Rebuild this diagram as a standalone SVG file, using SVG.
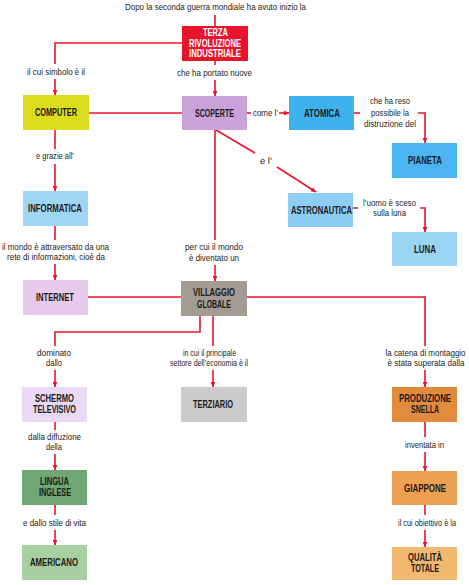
<svg xmlns="http://www.w3.org/2000/svg" width="469" height="585" viewBox="0 0 469 585">
<style>
.lbl{font-family:"Liberation Sans",Arial,sans-serif;font-size:9.5px;fill:#222;text-anchor:middle}
.nt{font-family:"Liberation Sans",Arial,sans-serif;font-size:10px;font-weight:bold;fill:#1a1a1a;text-anchor:middle}
.w{fill:#fff}
.c{fill:none;stroke:#e8142c;stroke-width:1.6}
</style>
<defs>
<marker id="a" viewBox="0 0 10 10" refX="10" refY="5" markerWidth="5" markerHeight="5" orient="auto" markerUnits="userSpaceOnUse">
<path d="M0,0 L10,5 L0,10 z" fill="#e8142c"/>
</marker>
</defs>
<rect width="469" height="585" fill="#fff"/>
<text class="lbl" x="215.5" y="10" textLength="181" lengthAdjust="spacingAndGlyphs">Dopo la seconda guerra mondiale ha avuto inizio la</text>
<g id="connectors">
<path class="c" d="M215,15 V26"/>
<path class="c" d="M182,43 H55 V64"/>
<path class="c" d="M55,79 V95" marker-end="url(#a)"/>
<path class="c" d="M215,61 V65"/>
<path class="c" d="M215,80 V96" marker-end="url(#a)"/>
<path class="c" d="M89,113 H182"/>
<path class="c" d="M247,113 H251"/>
<path class="c" d="M279,113 H289" marker-end="url(#a)"/>
<path class="c" d="M354,113 H360"/>
<path class="c" d="M418,113 H425 V143" marker-end="url(#a)"/>
<path class="c" d="M216,130 L255,153"/>
<path class="c" d="M277,167 L316,192" marker-end="url(#a)"/>
<path class="c" d="M215,130 V240"/>
<path class="c" d="M215,265 V281" marker-end="url(#a)"/>
<path class="c" d="M353,208 H358"/>
<path class="c" d="M420,208 H425 V232" marker-end="url(#a)"/>
<path class="c" d="M55,130 V149"/>
<path class="c" d="M55,164 V191" marker-end="url(#a)"/>
<path class="c" d="M55,226 V240"/>
<path class="c" d="M55,264 V280" marker-end="url(#a)"/>
<path class="c" d="M88,297 H181"/>
<path class="c" d="M200,316 V332 H55 V346"/>
<path class="c" d="M55,370 V387" marker-end="url(#a)"/>
<path class="c" d="M213,316 V346"/>
<path class="c" d="M213,370 V387" marker-end="url(#a)"/>
<path class="c" d="M247,297 H425 V346"/>
<path class="c" d="M425,370 V387" marker-end="url(#a)"/>
<path class="c" d="M55,422 V430"/>
<path class="c" d="M55,454 V470" marker-end="url(#a)"/>
<path class="c" d="M55,505 V515"/>
<path class="c" d="M55,530 V545" marker-end="url(#a)"/>
<path class="c" d="M425,422 V437"/>
<path class="c" d="M425,452 V471" marker-end="url(#a)"/>
<path class="c" d="M425,505 V515"/>
<path class="c" d="M425,530 V547" marker-end="url(#a)"/>
</g>
<g id="labels">
<text class="lbl" x="56" y="75" textLength="58" lengthAdjust="spacingAndGlyphs">il cui simbolo è il</text>
<text class="lbl" x="214.5" y="76" textLength="75" lengthAdjust="spacingAndGlyphs">che ha portato nuove</text>
<text class="lbl" x="265.5" y="116" textLength="25" lengthAdjust="spacingAndGlyphs">come l’</text>
<text class="lbl" x="390" y="104" textLength="40" lengthAdjust="spacingAndGlyphs">che ha reso</text>
<text class="lbl" x="390" y="116" textLength="38" lengthAdjust="spacingAndGlyphs">possibile la</text>
<text class="lbl" x="390" y="127" textLength="52" lengthAdjust="spacingAndGlyphs">distruzione del</text>
<text class="lbl" x="266" y="164">e l’</text>
<text class="lbl" x="389.5" y="206" textLength="53" lengthAdjust="spacingAndGlyphs">l’uomo è sceso</text>
<text class="lbl" x="389.5" y="216" textLength="33" lengthAdjust="spacingAndGlyphs">sulla luna</text>
<text class="lbl" x="55" y="159" textLength="38" lengthAdjust="spacingAndGlyphs">e grazie all’</text>
<text class="lbl" x="55.5" y="250" textLength="107" lengthAdjust="spacingAndGlyphs">il mondo è attraversato da una</text>
<text class="lbl" x="56" y="260" textLength="98" lengthAdjust="spacingAndGlyphs">rete di informazioni, cioè da</text>
<text class="lbl" x="214" y="250" textLength="58" lengthAdjust="spacingAndGlyphs">per cui il mondo</text>
<text class="lbl" x="214" y="261" textLength="50" lengthAdjust="spacingAndGlyphs">è diventato un</text>
<text class="lbl" x="54" y="356" textLength="34" lengthAdjust="spacingAndGlyphs">dominato</text>
<text class="lbl" x="54" y="366" textLength="16" lengthAdjust="spacingAndGlyphs">dallo</text>
<text class="lbl" x="209.5" y="356" textLength="53" lengthAdjust="spacingAndGlyphs">in cui il principale</text>
<text class="lbl" x="209" y="366" textLength="78" lengthAdjust="spacingAndGlyphs">settore dell’economia è il</text>
<text class="lbl" x="425.5" y="356" textLength="80" lengthAdjust="spacingAndGlyphs">la catena di montaggio</text>
<text class="lbl" x="426" y="366" textLength="77" lengthAdjust="spacingAndGlyphs">è stata superata dalla</text>
<text class="lbl" x="54.5" y="440" textLength="53" lengthAdjust="spacingAndGlyphs">dalla diffuzione</text>
<text class="lbl" x="54" y="450" textLength="16" lengthAdjust="spacingAndGlyphs">della</text>
<text class="lbl" x="54.5" y="526" textLength="63" lengthAdjust="spacingAndGlyphs">e dallo stile di vita</text>
<text class="lbl" x="424.5" y="448" textLength="39" lengthAdjust="spacingAndGlyphs">inventata in</text>
<text class="lbl" x="427" y="526" textLength="58" lengthAdjust="spacingAndGlyphs">il cui obiettivo è la</text>
</g>
<g id="terza"><rect x="182" y="26" width="66" height="35" fill="#e8142c"/>
<text class="nt w" x="215.5" y="35.5" textLength="25" lengthAdjust="spacingAndGlyphs">TERZA</text><text class="nt w" x="215" y="46.5" textLength="52" lengthAdjust="spacingAndGlyphs">RIVOLUZIONE</text><text class="nt w" x="215" y="57" textLength="52" lengthAdjust="spacingAndGlyphs">INDUSTRIALE</text></g>
<g id="computer"><rect x="23" y="95" width="66" height="35" fill="#dcdc1e"/><text class="nt" x="56" y="116" textLength="42" lengthAdjust="spacingAndGlyphs">COMPUTER</text></g>
<g id="scoperte"><rect x="182" y="96" width="65" height="34" fill="#c9a2d9"/><text class="nt" x="214.5" y="116.5" textLength="39" lengthAdjust="spacingAndGlyphs">SCOPERTE</text></g>
<g id="atomica"><rect x="289" y="96" width="65" height="34" fill="#3fb1ee"/><text class="nt" x="322" y="116.5" textLength="36" lengthAdjust="spacingAndGlyphs">ATOMICA</text></g>
<g id="pianeta"><rect x="392" y="143" width="65" height="35" fill="#4ab5f0"/><text class="nt" x="425" y="164" textLength="34" lengthAdjust="spacingAndGlyphs">PIANETA</text></g>
<g id="astronautica"><rect x="288" y="193" width="65" height="34" fill="#8dcdf4"/><text class="nt" x="321.5" y="213.5" textLength="61" lengthAdjust="spacingAndGlyphs">ASTRONAUTICA</text></g>
<g id="luna"><rect x="392" y="232" width="65" height="34" fill="#9ad4f5"/><text class="nt" x="425" y="252.5" textLength="22" lengthAdjust="spacingAndGlyphs">LUNA</text></g>
<g id="informatica"><rect x="23" y="191" width="65" height="35" fill="#9fd6f5"/><text class="nt" x="55" y="212" textLength="54" lengthAdjust="spacingAndGlyphs">INFORMATICA</text></g>
<g id="internet"><rect x="23" y="280" width="65" height="35" fill="#e6c9eb"/><text class="nt" x="55" y="301" textLength="38" lengthAdjust="spacingAndGlyphs">INTERNET</text></g>
<g id="villaggio"><rect x="181" y="281" width="66" height="35" fill="#a39c93"/><text class="nt" x="214" y="296" textLength="42" lengthAdjust="spacingAndGlyphs">VILLAGGIO</text><text class="nt" x="214" y="307.5" textLength="34" lengthAdjust="spacingAndGlyphs">GLOBALE</text></g>
<g id="schermo"><rect x="22" y="387" width="65" height="35" fill="#ead9f2"/><text class="nt" x="54.5" y="401.5" textLength="39" lengthAdjust="spacingAndGlyphs">SCHERMO</text><text class="nt" x="54.5" y="413" textLength="43" lengthAdjust="spacingAndGlyphs">TELEVISIVO</text></g>
<g id="terziario"><rect x="181" y="387" width="66" height="35" fill="#cbcbcb"/><text class="nt" x="213" y="408" textLength="40" lengthAdjust="spacingAndGlyphs">TERZIARIO</text></g>
<g id="lingua"><rect x="22" y="470" width="65" height="35" fill="#6fa673"/><text class="nt" x="54.5" y="484.5" textLength="29" lengthAdjust="spacingAndGlyphs">LINGUA</text><text class="nt" x="55" y="496" textLength="32" lengthAdjust="spacingAndGlyphs">INGLESE</text></g>
<g id="americano"><rect x="22" y="545" width="65" height="35" fill="#a7cfa1"/><text class="nt" x="54" y="566" textLength="48" lengthAdjust="spacingAndGlyphs">AMERICANO</text></g>
<g id="produzione"><rect x="392" y="387" width="65" height="35" fill="#e38b3c"/><text class="nt" x="425" y="401.5" textLength="52" lengthAdjust="spacingAndGlyphs">PRODUZIONE</text><text class="nt" x="425" y="413" textLength="28" lengthAdjust="spacingAndGlyphs">SNELLA</text></g>
<g id="giappone"><rect x="392" y="471" width="65" height="34" fill="#eda052"/><text class="nt" x="425" y="491.5" textLength="42" lengthAdjust="spacingAndGlyphs">GIAPPONE</text></g>
<g id="qualita"><rect x="392" y="547" width="65" height="33" fill="#f1b870"/><text class="nt" x="425" y="560.5" textLength="34" lengthAdjust="spacingAndGlyphs">QUALITÀ</text><text class="nt" x="425" y="572" textLength="28" lengthAdjust="spacingAndGlyphs">TOTALE</text></g>
</svg>
